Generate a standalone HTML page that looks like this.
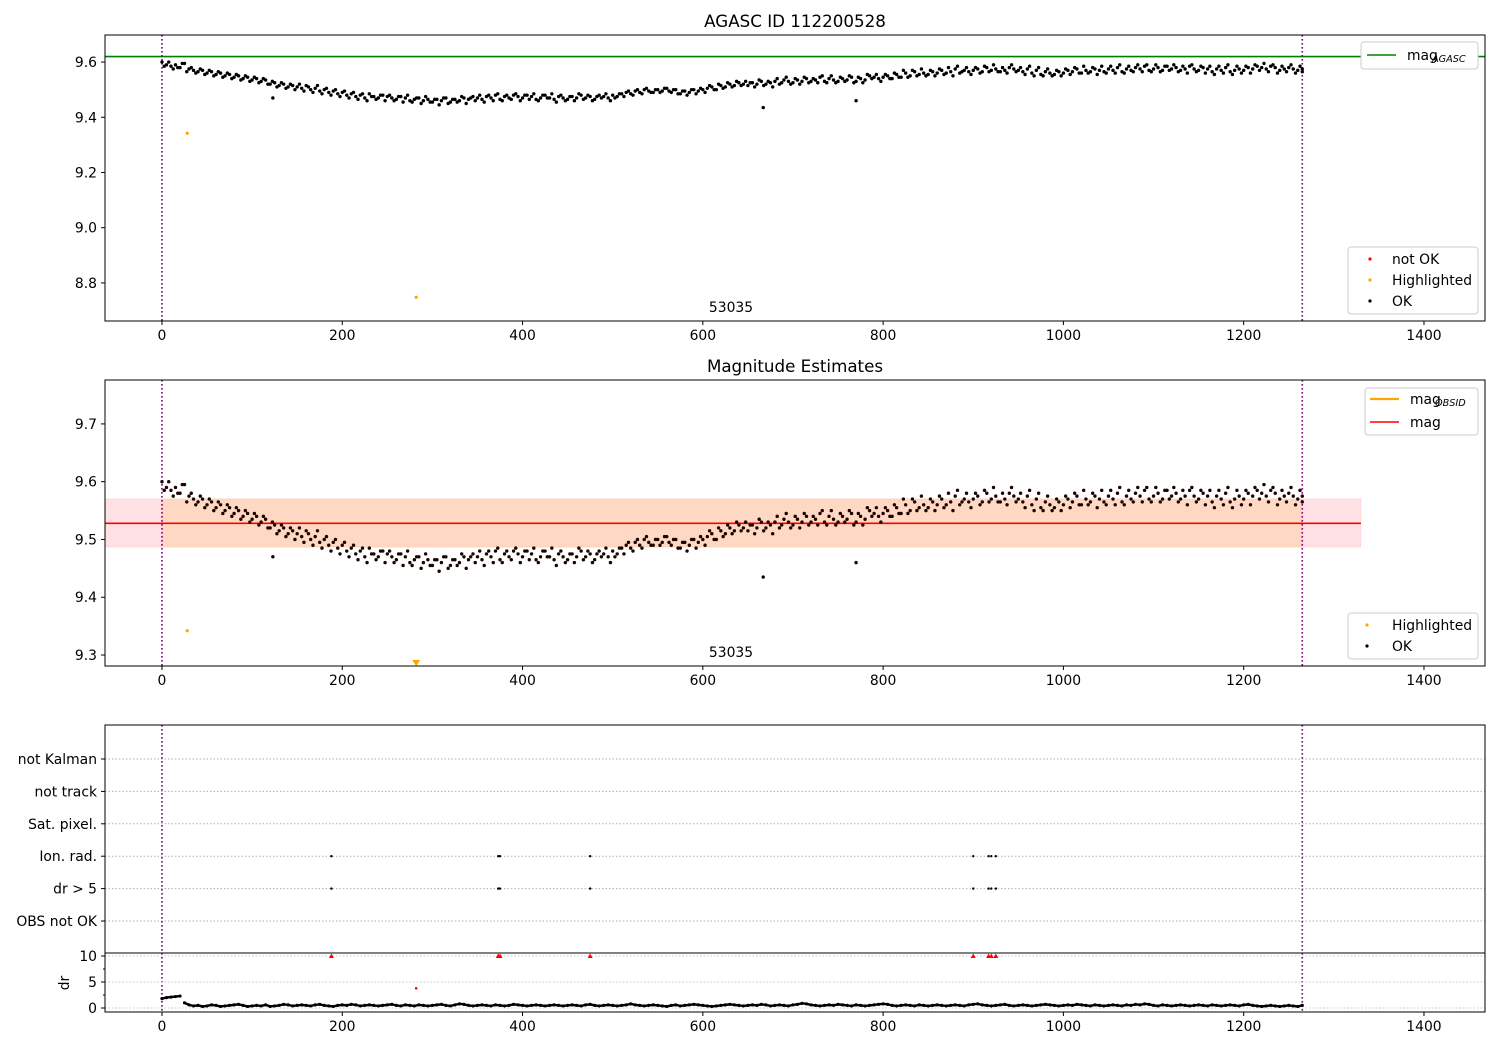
<!DOCTYPE html>
<html><head><meta charset="utf-8">
<style>
body{margin:0;background:#fff;}
svg{display:block;font-family:"DejaVu Sans","Liberation Sans",sans-serif;}
</style></head>
<body>
<svg id="chart" width="1500" height="1050" viewBox="0 0 1500 1050" xmlns="http://www.w3.org/2000/svg"></svg>
<script>
// ---- data ----
const frameStep = 5;
const magValues = [
9.60,9.59,9.585,9.59,9.58,9.595,9.575,9.57,9.565,9.57,
9.56,9.565,9.555,9.56,9.55,9.555,9.545,9.55,9.54,9.545,
9.535,9.54,9.53,9.535,9.52,9.525,9.515,9.52,9.51,9.515,
9.51,9.505,9.515,9.50,9.505,9.495,9.50,9.49,9.495,9.485,
9.49,9.48,9.485,9.475,9.48,9.47,9.485,9.475,9.47,9.48,
9.475,9.47,9.465,9.475,9.47,9.46,9.465,9.47,9.46,9.465,
9.455,9.465,9.46,9.47,9.455,9.465,9.46,9.47,9.465,9.475,
9.47,9.465,9.475,9.47,9.48,9.465,9.475,9.47,9.48,9.475,
9.47,9.48,9.475,9.465,9.47,9.48,9.47,9.465,9.475,9.47,
9.465,9.475,9.47,9.48,9.47,9.475,9.465,9.48,9.475,9.47,
9.48,9.475,9.485,9.49,9.485,9.495,9.49,9.50,9.495,9.49,
9.50,9.495,9.505,9.49,9.50,9.485,9.495,9.49,9.50,9.495,
9.50,9.505,9.51,9.50,9.515,9.51,9.52,9.515,9.525,9.52,
9.515,9.525,9.52,9.53,9.52,9.525,9.53,9.52,9.535,9.53,
9.525,9.535,9.53,9.54,9.53,9.535,9.545,9.53,9.54,9.535,
9.53,9.54,9.535,9.545,9.53,9.54,9.535,9.55,9.545,9.54,
9.545,9.55,9.54,9.555,9.545,9.56,9.55,9.565,9.555,9.56,
9.555,9.565,9.56,9.57,9.56,9.565,9.575,9.56,9.57,9.565,
9.57,9.575,9.565,9.58,9.57,9.575,9.565,9.57,9.58,9.575,
9.57,9.565,9.575,9.56,9.57,9.555,9.565,9.56,9.555,9.565,
9.56,9.57,9.565,9.575,9.56,9.57,9.565,9.575,9.57,9.565,
9.575,9.57,9.58,9.565,9.575,9.57,9.58,9.575,9.585,9.57,
9.575,9.58,9.57,9.585,9.575,9.58,9.57,9.575,9.585,9.575,
9.57,9.58,9.575,9.565,9.575,9.57,9.58,9.565,9.57,9.575,
9.57,9.58,9.575,9.585,9.58,9.575,9.585,9.58,9.57,9.575,
9.58,9.575,9.57,9.575];
// second interleaved set of frames (offset by 2 frames)
const magValuesB = [
9.585,9.60,9.575,9.58,9.595,9.565,9.58,9.56,9.575,9.555,
9.57,9.55,9.565,9.545,9.56,9.54,9.555,9.535,9.55,9.53,
9.545,9.525,9.54,9.52,9.53,9.51,9.525,9.505,9.52,9.50,
9.52,9.495,9.51,9.49,9.515,9.485,9.505,9.48,9.50,9.475,
9.495,9.47,9.49,9.465,9.485,9.46,9.475,9.465,9.48,9.46,
9.48,9.46,9.475,9.455,9.48,9.455,9.47,9.45,9.475,9.455,
9.465,9.445,9.47,9.45,9.465,9.455,9.475,9.45,9.47,9.46,
9.48,9.455,9.48,9.46,9.485,9.46,9.48,9.465,9.485,9.46,
9.48,9.465,9.485,9.46,9.48,9.47,9.485,9.455,9.48,9.46,
9.475,9.46,9.485,9.465,9.48,9.46,9.475,9.47,9.485,9.46,
9.47,9.485,9.475,9.495,9.48,9.50,9.485,9.505,9.49,9.50,
9.49,9.505,9.495,9.50,9.485,9.495,9.48,9.50,9.485,9.505,
9.49,9.515,9.50,9.52,9.505,9.525,9.51,9.53,9.515,9.53,
9.525,9.51,9.535,9.515,9.53,9.51,9.54,9.525,9.545,9.52,
9.54,9.52,9.545,9.525,9.54,9.525,9.55,9.525,9.55,9.525,
9.545,9.53,9.55,9.525,9.545,9.525,9.555,9.54,9.555,9.53,
9.555,9.54,9.56,9.545,9.57,9.545,9.57,9.55,9.575,9.55,
9.57,9.55,9.575,9.555,9.58,9.55,9.585,9.565,9.58,9.555,
9.58,9.56,9.585,9.565,9.59,9.565,9.58,9.56,9.59,9.565,
9.58,9.555,9.585,9.55,9.58,9.55,9.575,9.55,9.57,9.55,
9.575,9.555,9.58,9.56,9.585,9.56,9.58,9.555,9.585,9.56,
9.585,9.56,9.59,9.56,9.585,9.565,9.59,9.565,9.59,9.565,
9.59,9.565,9.585,9.57,9.59,9.565,9.585,9.56,9.59,9.565,
9.585,9.56,9.585,9.555,9.585,9.56,9.59,9.555,9.585,9.56,
9.585,9.56,9.59,9.57,9.595,9.565,9.59,9.56,9.585,9.565,
9.59,9.56,9.585,9.565];
const outlierFrames = [123, 667, 770];
const outlierMags = [9.47, 9.435, 9.46];
const highlightFrames = [28, 282];
const highlightMags = [9.342, 8.748];
const magAgasc = 9.62;
const magObsid = 9.528;
const magBandLow = 9.487;
const magBandHigh = 9.570;
const flagCategories = ["OBS not OK","dr > 5","Ion. rad.","Sat. pixel.","not track","not Kalman"];
const flagFrames = [188, 373, 375, 475, 900, 917, 920, 925];
const flagRows = ["dr > 5","Ion. rad."];
const drStep = 5;
const drValues = [
1.8,2.0,2.1,2.2,2.3,1.0,0.6,0.4,0.5,0.3,0.4,0.6,0.5,0.3,0.4,0.5,0.6,0.7,0.5,0.3,
0.4,0.5,0.4,0.6,0.3,0.4,0.5,0.7,0.6,0.4,0.5,0.6,0.5,0.4,0.6,0.7,0.5,0.4,0.3,0.5,
0.6,0.5,0.7,0.6,0.4,0.5,0.6,0.5,0.4,0.5,0.6,0.7,0.5,0.4,0.6,0.5,0.4,0.6,0.5,0.4,
0.5,0.6,0.7,0.5,0.4,0.6,0.8,0.7,0.5,0.4,0.5,0.6,0.5,0.4,0.6,0.5,0.4,0.5,0.7,0.6,
0.5,0.4,0.5,0.6,0.5,0.4,0.5,0.6,0.5,0.4,0.5,0.6,0.5,0.4,0.6,0.7,0.5,0.4,0.5,0.6,
0.5,0.4,0.5,0.6,0.8,0.6,0.5,0.4,0.5,0.6,0.5,0.4,0.3,0.5,0.6,0.4,0.5,0.6,0.7,0.6,
0.5,0.4,0.3,0.4,0.5,0.6,0.7,0.6,0.5,0.4,0.5,0.6,0.5,0.7,0.6,0.4,0.5,0.6,0.5,0.4,
0.6,0.7,0.9,0.8,0.6,0.5,0.4,0.5,0.6,0.5,0.7,0.6,0.5,0.4,0.6,0.5,0.4,0.5,0.6,0.7,
0.8,0.7,0.5,0.4,0.5,0.6,0.5,0.4,0.6,0.5,0.4,0.5,0.6,0.5,0.4,0.5,0.6,0.5,0.4,0.6,
0.7,0.8,0.6,0.5,0.4,0.5,0.6,0.7,0.5,0.4,0.5,0.6,0.5,0.4,0.5,0.6,0.7,0.6,0.5,0.4,
0.5,0.6,0.5,0.7,0.6,0.5,0.4,0.6,0.5,0.4,0.5,0.6,0.5,0.4,0.6,0.5,0.7,0.6,0.8,0.7,
0.5,0.4,0.6,0.5,0.4,0.5,0.6,0.5,0.4,0.5,0.6,0.5,0.4,0.6,0.5,0.4,0.5,0.6,0.5,0.4,
0.6,0.7,0.5,0.4,0.3,0.4,0.5,0.4,0.3,0.4,0.5,0.4,0.3,0.5];
const drHighFrames = [188, 373, 375, 475, 900, 917, 920, 925];
const drHighValue = 10;
const drHighlightFrame = 282;
const drHighlightValue = 3.8;
const xTicks = [0,200,400,600,800,1000,1200,1400];
const y1Ticks = [8.8,9.0,9.2,9.4,9.6];
const y2Ticks = [9.3,9.4,9.5,9.6,9.7];
const drTicks = [0,5,10];
const obsStart = 0, obsEnd = 1265;

// ---- helpers ----
const NS = "http://www.w3.org/2000/svg";
const svg = document.getElementById('chart');
const FS = 13.9;
function mk(tag, attrs, parent){
  const e = document.createElementNS(NS, tag);
  for (const k in attrs) e.setAttribute(k, attrs[k]);
  (parent||svg).appendChild(e); return e;
}
function txt(s, attrs, parent){ const e = mk('text', attrs, parent); e.textContent = s; return e; }
const X0 = 105, X1 = 1485, xMin = -63.2, xMax = 1467.7;
function xs(v){ return X0 + (v - xMin) / (xMax - xMin) * (X1 - X0); }
function yScale(top, bot, vTop, vBot){ return v => top + (vTop - v) / (vTop - vBot) * (bot - top); }
const y1 = yScale(35, 321, 9.698, 8.662);
const y2 = yScale(380, 666, 9.776, 9.281);
const yd = yScale(953, 1012, 10.58, -0.77);

function xAxis(yb, name){
  const g = mk('g', {});
  
  
  xTicks.forEach(t => {
    mk('line', {x1:xs(t), x2:xs(t), y1:yb, y2:yb+4, stroke:'#000'}, g);
    txt(String(t), {x:xs(t), y:yb+19, 'font-size':FS, 'text-anchor':'middle'}, g);
  });
}
function yAxis(ticks, sc, fmt, name){
  const g = mk('g', {});
  
  
  ticks.forEach(t => {
    mk('line', {x1:X0-4, x2:X0, y1:sc(t), y2:sc(t), stroke:'#000'}, g);
    txt(fmt(t), {x:X0-8, y:sc(t)+5, 'font-size':FS, 'text-anchor':'end'}, g);
  });
}
function vlines(top, bot){
  [obsStart, obsEnd].forEach(f => {
    const l = mk('line', {x1:xs(f), x2:xs(f), y1:top, y2:bot, stroke:'#800080', 'stroke-width':1.6, 'stroke-dasharray':'1.6,2.4'});
    
    
  });
}
function dots(frames, vals, sc, color, r, name){
  const g = mk('g', {fill:color});
  
  
  frames.forEach((f,i) => mk('circle', {cx:xs(f), cy:sc(vals[i]), r:r}, g));
}
const magFrames = magValues.map((v,i) => i*frameStep);
const magFramesB = magValuesB.map((v,i) => Math.min(i*frameStep + 2.5, obsEnd));

// ---- panel 1 ----
txt('AGASC ID 112200528', {x:795, y:27, 'font-size':16.7, 'text-anchor':'middle'});
const gl = mk('line', {x1:X0, x2:X1, y1:y1(magAgasc), y2:y1(magAgasc), stroke:'#008000', 'stroke-width':1.6});


vlines(35, 321);
dots(magFrames, magValues, y1, '#000', 1.7, 'ok-points-1');
dots(magFramesB, magValuesB, y1, '#000', 1.7, 'ok-points-1b');
dots(outlierFrames, outlierMags, y1, '#000', 1.7, 'outlier-points-1');
dots(highlightFrames, highlightMags, y1, 'orange', 1.6, 'highlighted-points-1');
txt('53035', {x:731, y:312, 'font-size':FS, 'text-anchor':'middle'});
mk('rect', {x:X0, y:35, width:X1-X0, height:286, fill:'none', stroke:'#000'});
xAxis(321, 'x-axis-1');
yAxis(y1Ticks, y1, t=>t.toFixed(1), 'y-axis-1');
let lg = mk('g', {});  
mk('rect', {x:1361, y:42, width:117, height:27, rx:3, fill:'#fff', stroke:'#ccc'}, lg);
mk('line', {x1:1367, x2:1396, y1:55, y2:55, stroke:'#008000', 'stroke-width':1.6}, lg);
txt('mag', {x:1407, y:60, 'font-size':FS}, lg);
txt('AGASC', {x:1432, y:62, 'font-size':9.7, 'font-style':'italic'}, lg);
lg = mk('g', {});  
mk('rect', {x:1348, y:247, width:130, height:67, rx:3, fill:'#fff', stroke:'#ccc'}, lg);
[['red','not OK',259],['orange','Highlighted',280],['#000','OK',301]].forEach(a=>{
  mk('circle', {cx:1370, cy:a[2], r:1.6, fill:a[0]}, lg);
  txt(a[1], {x:1392, y:a[2]+5, 'font-size':FS}, lg);
});

// ---- panel 2 ----
txt('Magnitude Estimates', {x:795, y:372, 'font-size':16.7, 'text-anchor':'middle'});
let band = mk('rect', {x:X0, y:y2(magBandHigh), width:xs(1330)-X0, height:y2(magBandLow)-y2(magBandHigh), fill:'#ffe0e4', stroke:'#fcc8cc', 'stroke-width':0.5});


band = mk('rect', {x:xs(obsStart), y:y2(magBandHigh), width:xs(obsEnd)-xs(obsStart), height:y2(magBandLow)-y2(magBandHigh), fill:'#ffd8c4', stroke:'#ffc8a8', 'stroke-width':0.5});


let rl = mk('line', {x1:X0, x2:xs(1330), y1:y2(magObsid), y2:y2(magObsid), stroke:'red', 'stroke-width':1.6});


vlines(380, 666);
dots(magFrames, magValues, y2, '#1a0500', 1.7, 'ok-points-2');
dots(magFramesB, magValuesB, y2, '#1a0500', 1.7, 'ok-points-2b');
dots(outlierFrames, outlierMags, y2, '#000', 1.7, 'outlier-points-2');
dots([highlightFrames[0]], [highlightMags[0]], y2, 'orange', 1.6, 'highlighted-points-2');
let tri = mk('path', {d:`M${xs(highlightFrames[1])-4},660 h8 l-4,6 z`, fill:'orange'});


txt('53035', {x:731, y:657, 'font-size':FS, 'text-anchor':'middle'});
mk('rect', {x:X0, y:380, width:X1-X0, height:286, fill:'none', stroke:'#000'});
xAxis(666, 'x-axis-2');
yAxis(y2Ticks, y2, t=>t.toFixed(1), 'y-axis-2');
lg = mk('g', {});  
mk('rect', {x:1365, y:388, width:113, height:47, rx:3, fill:'#fff', stroke:'#ccc'}, lg);
mk('line', {x1:1370, x2:1399, y1:399, y2:399, stroke:'orange', 'stroke-width':2.2}, lg);
txt('mag', {x:1410, y:404, 'font-size':FS}, lg);
txt('OBSID', {x:1435, y:406, 'font-size':9.7, 'font-style':'italic'}, lg);
mk('line', {x1:1370, x2:1399, y1:422, y2:422, stroke:'red', 'stroke-width':1.6}, lg);
txt('mag', {x:1410, y:427, 'font-size':FS}, lg);
lg = mk('g', {});  
mk('rect', {x:1348, y:613, width:130, height:46, rx:3, fill:'#fff', stroke:'#ccc'}, lg);
[['orange','Highlighted',625],['#000','OK',646]].forEach(a=>{
  mk('circle', {cx:1367, cy:a[2], r:1.6, fill:a[0]}, lg);
  txt(a[1], {x:1392, y:a[2]+5, 'font-size':FS}, lg);
});

// ---- panel 3 (flags) ----
const rowY = c => 921 - flagCategories.indexOf(c) * 32.4;
const fg = mk('g', {});


flagCategories.forEach(c => {
  mk('line', {x1:X0, x2:X1, y1:rowY(c), y2:rowY(c), stroke:'#b0b0b0', 'stroke-dasharray':'1.5,2'}, fg);
  mk('line', {x1:X0-4, x2:X0, y1:rowY(c), y2:rowY(c), stroke:'#000'}, fg);
  txt(c, {x:X0-8, y:rowY(c)+5, 'font-size':FS, 'text-anchor':'end'}, fg);
});
vlines(725, 1012);
flagRows.forEach(r => {
  dots(flagFrames, flagFrames.map(()=>0), v => rowY(r), '#000', 1.2, 'flag-points');
});
mk('rect', {x:X0, y:725, width:X1-X0, height:228, fill:'none', stroke:'#000'});

// ---- dr panel ----
const dg = mk('g', {});


drTicks.forEach(v => mk('line', {x1:X0, x2:X1, y1:yd(v), y2:yd(v), stroke:'#c8c8c8', 'stroke-dasharray':'1.5,2'}, dg));
const drFrames = drValues.map((v,i)=>Math.min(i*drStep, obsEnd));
dots(drFrames, drValues, yd, '#000', 1.6, 'dr-points');
const drPath = mk('path', {d: drFrames.map((f,i)=>(i===0||i===5?'M':'L')+xs(f)+','+yd(drValues[i])).join(''), fill:'none', stroke:'#000', 'stroke-width':2.4});


const rg = mk('g', {fill:'red'});


drHighFrames.forEach(f => mk('path', {d:`M${xs(f)-2.5},${yd(drHighValue)+2} h5 l-2.5,-4.5 z`}, rg));
dots([drHighlightFrame], [drHighlightValue], yd, 'red', 1.3, 'dr-highlight-point');
mk('rect', {x:X0, y:953, width:X1-X0, height:59, fill:'none', stroke:'#000'});
yAxis(drTicks, yd, t=>String(t), 'y-axis-dr');
[2.5,7.5].forEach(v=>mk('line',{x1:X0-2,x2:X0,y1:yd(v),y2:yd(v),stroke:'#000'}));
const dl = txt('dr', {x:0, y:0, 'font-size':FS, 'text-anchor':'middle', transform:'translate(69,983) rotate(-90)'});

xAxis(1012, 'x-axis-3');
</script>
</body></html>
